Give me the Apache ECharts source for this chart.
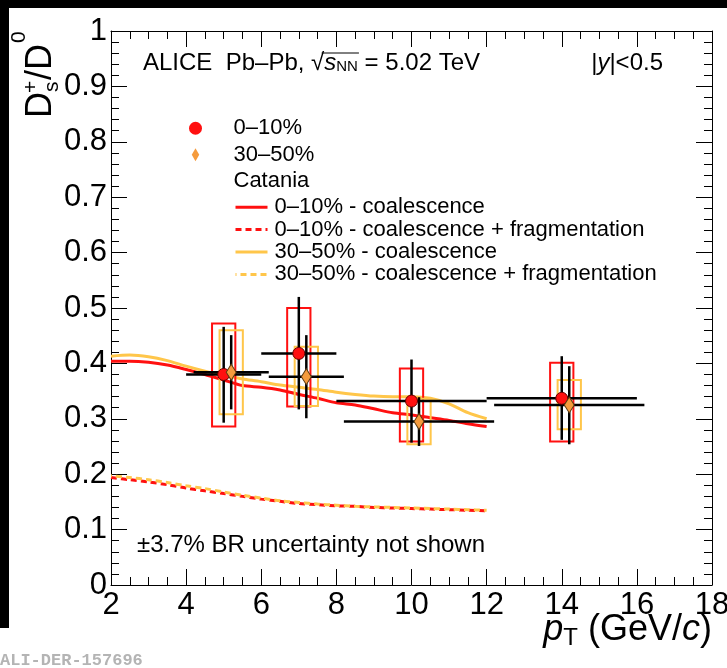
<!DOCTYPE html>
<html><head><meta charset="utf-8">
<script src="https://cdn.jsdelivr.net/npm/echarts@6/dist/echarts.min.js"></script>
<style>html,body{margin:0;padding:0;background:#fff}#c{width:727px;height:668px}</style>
</head><body><div id="c"></div>
<script>
// ---------------- data ----------------
const xTickValues = [2, 4, 6, 8, 10, 12, 14, 16, 18];
const yTickValues = [0, 0.1, 0.2, 0.3, 0.4, 0.5, 0.6, 0.7, 0.8, 0.9, 1];

// 0–10% measured points
const pt010 = [5, 7, 10, 14];
const ptLow010 = [4, 6, 8, 12];
const ptHigh010 = [6, 8, 12, 16];
const ratio010 = [0.380, 0.418, 0.332, 0.337];
const statLow010 = [0.293, 0.317, 0.257, 0.262];
const statHigh010 = [0.466, 0.520, 0.407, 0.413];
const sysLow010 = [0.286, 0.322, 0.259, 0.259];
const sysHigh010 = [0.472, 0.500, 0.391, 0.401];

// 30–50% measured points (displayed shifted by +0.2)
const pt3050 = [5.2, 7.2, 10.2, 14.2];
const ptLow3050 = [4.2, 6.2, 8.2, 12.2];
const ptHigh3050 = [6.2, 8.2, 12.2, 16.2];
const ratio3050 = [0.384, 0.376, 0.295, 0.325];
const statLow3050 = [0.317, 0.301, 0.251, 0.254];
const statHigh3050 = [0.451, 0.451, 0.339, 0.395];
const sysLow3050 = [0.308, 0.323, 0.254, 0.281];
const sysHigh3050 = [0.460, 0.430, 0.336, 0.370];

// Catania model curves
const catPt = [2, 2.5, 3, 3.5, 4, 4.5, 5, 5.5, 6, 6.5, 7, 7.5, 8, 8.5, 9, 9.5, 10, 10.5, 11, 11.5, 12];
const cat010Coal = [0.404, 0.404, 0.402, 0.397, 0.389, 0.380, 0.370, 0.360, 0.357, 0.352, 0.344, 0.337, 0.329, 0.325, 0.318, 0.311, 0.307, 0.302, 0.297, 0.291, 0.286];
const cat010CoalFrag = [0.194, 0.190, 0.186, 0.181, 0.175, 0.170, 0.165, 0.160, 0.155, 0.151, 0.147, 0.145, 0.143, 0.142, 0.140, 0.139, 0.138, 0.137, 0.136, 0.135, 0.134];
const cat3050Coal = [0.413, 0.415, 0.412, 0.405, 0.395, 0.386, 0.378, 0.372, 0.367, 0.361, 0.357, 0.353, 0.348, 0.344, 0.341, 0.340, 0.340, 0.337, 0.327, 0.311, 0.300];
const cat3050CoalFrag = [0.197, 0.194, 0.190, 0.185, 0.179, 0.174, 0.168, 0.162, 0.157, 0.152, 0.149, 0.146, 0.144, 0.142, 0.141, 0.140, 0.139, 0.138, 0.137, 0.136, 0.135];

// ---------------- styling ----------------
const FONT = "'Liberation Sans', Arial, Helvetica, sans-serif";
const RED = '#ff1010';
const YEL = '#ffc64a';
const ORANGE = '#f59b3d';
const SYS_HALF = 0.31;
const N010 = '0–10%', N3050 = '30–50%';
const L1 = '0–10% - coalescence', L2 = '0–10% - coalescence + fragmentation';
const L3 = '30–50% - coalescence', L4 = '30–50% - coalescence + fragmentation';

const zip = (...arrs) => arrs[0].map((_, i) => arrs.map(a => a[i]));

function errRender(params, api) {
  const x = api.value(0), y = api.value(1);
  const pL = api.coord([api.value(2), y]);
  const pR = api.coord([api.value(3), y]);
  const pB = api.coord([x, api.value(4)]);
  const pT = api.coord([x, api.value(5)]);
  const style = { stroke: '#000', lineWidth: 2.5 };
  return { type: 'group', children: [
    { type: 'line', shape: { x1: pL[0], y1: pL[1], x2: pR[0], y2: pR[1] }, style },
    { type: 'line', shape: { x1: pB[0], y1: pB[1], x2: pT[0], y2: pT[1] }, style }
  ]};
}
function boxRender(color) {
  return function (params, api) {
    const x = api.value(0);
    const a = api.coord([x - SYS_HALF, api.value(2)]);
    const b = api.coord([x + SYS_HALF, api.value(1)]);
    return { type: 'rect', shape: { x: a[0], y: a[1], width: b[0] - a[0], height: b[1] - a[1] },
      style: { fill: 'none', stroke: color, lineWidth: 2 } };
  };
}

function axisCommon(extra) {
  return Object.assign({
    type: 'value',
    axisLine: { show: true, onZero: false, lineStyle: { color: '#000', width: 1 } },
    axisTick: { show: true, inside: true, length: 16, lineStyle: { color: '#000', width: 1 } },
    minorTick: { show: true, length: 8, lineStyle: { color: '#000', width: 1 } },
    splitLine: { show: false },
    minorSplitLine: { show: false }
  }, extra);
}

// measure header pieces for the radical overline
const HFS = 24;
const mctx = document.createElement('canvas').getContext('2d');
function tw(t, f) { mctx.font = f; return mctx.measureText(t).width; }
const HX = 143, HY = 63;
const preW = tw('ALICE  Pb–Pb, ', HFS + "px " + FONT);
const radW = tw('√', HFS + "px " + FONT);
const sW = tw('s', "italic " + HFS + "px " + FONT);
const nnW = tw('NN', "15px " + FONT);
const olX1 = HX + preW + radW * 0.8;
const olX2 = HX + preW + radW + sW + nnW + 1;

const chart = echarts.init(document.getElementById('c'), null, { renderer: 'canvas' });
chart.setOption({
  animation: false,
  backgroundColor: '#fff',
  grid: { left: 111, right: 15, top: 31, bottom: 83, containLabel: false, outerBoundsMode: 'none' },
  xAxis: [
    axisCommon({ position: 'bottom', min: xTickValues[0], max: xTickValues[xTickValues.length - 1], interval: 2,
      minorTick: { show: true, splitNumber: 4, length: 8, lineStyle: { color: '#000', width: 1 } },
      axisLabel: { fontSize: 31, color: '#000', fontFamily: FONT, margin: 5, showMinLabel: true, showMaxLabel: true } }),
    axisCommon({ position: 'top', min: 2, max: 18, interval: 2,
      minorTick: { show: true, splitNumber: 4, length: 8, lineStyle: { color: '#000', width: 1 } },
      axisLabel: { show: false } })
  ],
  yAxis: [
    axisCommon({ position: 'left', min: yTickValues[0], max: yTickValues[yTickValues.length - 1], interval: 0.1,
      minorTick: { show: true, splitNumber: 5, length: 8, lineStyle: { color: '#000', width: 1 } },
      axisLabel: { fontSize: 31, color: '#000', fontFamily: FONT, margin: 4, showMinLabel: true, showMaxLabel: true,
        formatter: v => (Math.abs(v) < 1e-9 ? '0' : Math.abs(v - 1) < 1e-9 ? '1' : (+v).toFixed(1)) } }),
    axisCommon({ position: 'right', min: 0, max: 1, interval: 0.1,
      minorTick: { show: true, splitNumber: 5, length: 8, lineStyle: { color: '#000', width: 1 } },
      axisLabel: { show: false } })
  ],
  legend: [
    { orient: 'vertical', left: 184, top: 110, itemWidth: 66, itemHeight: 13, itemGap: 0,
      selectedMode: false, symbolKeepAspect: true,
      textStyle: { fontSize: 22, fontFamily: FONT, color: '#000', lineHeight: 26.5 },
      data: [
        { name: N010, icon: 'circle', itemStyle: { color: RED, borderWidth: 0 } },
        { name: N3050, icon: 'path://M0,-8L4.6,0L0,8L-4.6,0Z', itemStyle: { color: ORANGE, borderWidth: 0 } },
        { name: 'Catania', icon: 'circle', itemStyle: { color: 'rgba(0,0,0,0)', borderWidth: 0, opacity: 0 } }
      ] },
    { orient: 'vertical', left: 229, top: 191, itemWidth: 32, itemHeight: 14, itemGap: 0,
      selectedMode: false,
      itemStyle: { color: 'rgba(0,0,0,0)', borderWidth: 0, opacity: 0 },
      lineStyle: { width: 3 },
      textStyle: { fontSize: 22, fontFamily: FONT, color: '#000', lineHeight: 22.4, padding: [0, 0, 0, 2] },
      data: [L1, L2, L3, L4] }
  ],
  graphic: [
    { type: 'rect', z: 100, shape: { x: 0, y: 0, width: 727, height: 8 }, style: { fill: '#000' } },
    { type: 'rect', z: 100, shape: { x: 0, y: 0, width: 9, height: 628 }, style: { fill: '#000' } },
    { type: 'text', x: HX, y: HY, z: 50, style: {
      text: '{n|ALICE  Pb–Pb, √}{i|s}{sub|NN}{n| = 5.02 TeV}', textVerticalAlign: 'middle', fill: '#000',
      rich: {
        n: { fontSize: HFS, fontFamily: FONT, lineHeight: 22, fill: '#000' },
        i: { fontSize: HFS, fontFamily: FONT, fontStyle: 'italic', lineHeight: 22, fill: '#000' },
        sub: { fontSize: 15, fontFamily: FONT, lineHeight: 15, verticalAlign: 'bottom', fill: '#000' }
      } } },
    { type: 'line', z: 50, shape: { x1: olX1, y1: 53, x2: olX2, y2: 53 }, style: { stroke: '#000', lineWidth: 1 } },
    { type: 'text', x: 663, y: HY, z: 50, style: {
      text: '{n||}{i|y}{n||<0.5}', textAlign: 'right', textVerticalAlign: 'middle',
      rich: {
        n: { fontSize: HFS, fontFamily: FONT, fill: '#000' },
        i: { fontSize: HFS, fontFamily: FONT, fontStyle: 'italic', fill: '#000' }
      } } },
    { type: 'text', x: 137, y: 545, z: 50, style: { text: '±3.7% BR uncertainty not shown', font: '24px ' + FONT,
      fill: '#000', textVerticalAlign: 'middle' } },
    { type: 'text', x: 712, y: 630, z: 50, style: {
      text: '{i|p}{sub|T}{n| (GeV/}{i|c}{n|)}', textAlign: 'right', textVerticalAlign: 'middle',
      rich: {
        n: { fontSize: 36, fontFamily: FONT, lineHeight: 40, fill: '#000' },
        i: { fontSize: 36, fontFamily: FONT, fontStyle: 'italic', lineHeight: 40, fill: '#000' },
        sub: { fontSize: 24, fontFamily: FONT, lineHeight: 24, verticalAlign: 'bottom', fill: '#000' }
      } } },
    { type: 'group', x: 54, y: 118, rotation: Math.PI / 2, z: 50, children: [
      { type: 'text', x: 0, y: -13, style: { text: 'D', font: '36px ' + FONT, fill: '#000', textVerticalAlign: 'middle' } },
      { type: 'text', x: 26, y: -2, style: { text: 's', font: '21px ' + FONT, fill: '#000', textVerticalAlign: 'middle' } },
      { type: 'text', x: 25, y: -23, style: { text: '+', font: '21px ' + FONT, fill: '#000', textVerticalAlign: 'middle' } },
      { type: 'text', x: 38, y: -13, style: { text: '/D', font: '36px ' + FONT, fill: '#000', textVerticalAlign: 'middle' } },
      { type: 'text', x: 75, y: -35, style: { text: '0', font: '21px ' + FONT, fill: '#000', textVerticalAlign: 'middle' } }
    ] },
    { type: 'text', x: 0, y: 661, z: 50, style: { text: 'ALI-DER-157696', font: 'bold 17px "Liberation Mono", "DejaVu Sans Mono", monospace',
      fill: '#b4b4b4', textVerticalAlign: 'middle' } }
  ],
  series: [
    { name: L1, type: 'line', data: zip(catPt, cat010Coal), showSymbol: false, symbol: 'none', smooth: 0.3, z: 1,
      lineStyle: { color: RED, width: 3 }, itemStyle: { color: RED }, emphasis: { disabled: true } },
    { name: L2, type: 'line', data: zip(catPt, cat010CoalFrag), showSymbol: false, symbol: 'none', smooth: 0.3, z: 1,
      lineStyle: { color: RED, width: 3, type: [6, 4] }, itemStyle: { color: RED }, emphasis: { disabled: true } },
    { name: L3, type: 'line', data: zip(catPt, cat3050Coal), showSymbol: false, symbol: 'none', smooth: 0.3, z: 1,
      lineStyle: { color: YEL, width: 3 }, itemStyle: { color: YEL }, emphasis: { disabled: true } },
    { name: L4, type: 'line', data: zip(catPt, cat3050CoalFrag), showSymbol: false, symbol: 'none', smooth: 0.3, z: 1,
      lineStyle: { color: YEL, width: 3, type: [6, 4], dashOffset: 5 }, itemStyle: { color: YEL }, emphasis: { disabled: true } },
    { name: 'sys010', type: 'custom', renderItem: boxRender(RED), z: 2,
      data: zip(pt010, sysLow010, sysHigh010), encode: { x: 0, y: [1, 2] }, silent: true },
    { name: 'sys3050', type: 'custom', renderItem: boxRender(YEL), z: 2,
      data: zip(pt3050, sysLow3050, sysHigh3050), encode: { x: 0, y: [1, 2] }, silent: true },
    { name: 'stat010', type: 'custom', renderItem: errRender, z: 3,
      data: zip(pt010, ratio010, ptLow010, ptHigh010, statLow010, statHigh010), encode: { x: 0, y: 1 }, silent: true },
    { name: 'stat3050', type: 'custom', renderItem: errRender, z: 3,
      data: zip(pt3050, ratio3050, ptLow3050, ptHigh3050, statLow3050, statHigh3050), encode: { x: 0, y: 1 }, silent: true },
    { name: N010, type: 'scatter', data: zip(pt010, ratio010), symbol: 'circle', symbolSize: 12, z: 4,
      itemStyle: { color: RED, borderColor: '#600', borderWidth: 1, opacity: 1 }, emphasis: { disabled: true } },
    { name: N3050, type: 'scatter', data: zip(pt3050, ratio3050), symbol: 'diamond', symbolSize: [10, 16], z: 4,
      itemStyle: { color: ORANGE, borderColor: '#5a3a10', borderWidth: 1, opacity: 1 }, emphasis: { disabled: true } },
    { name: 'Catania', type: 'scatter', data: [], itemStyle: { color: 'rgba(0,0,0,0)' } }
  ]
});
</script>
</body></html>
